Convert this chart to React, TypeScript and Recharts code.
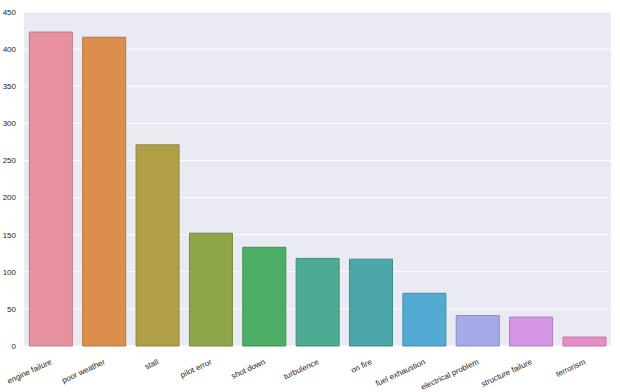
import React from 'react';
import { BarChart, Bar, XAxis, YAxis, CartesianGrid, Cell } from 'recharts';

const causes = [
  'engine failure', 'poor weather', 'stall', 'pilot error', 'shot down', 'turbulence',
  'on fire', 'fuel exhaustion', 'electrical problem', 'structure failure', 'terrorism',
];
const counts = [423, 416, 271, 152, 133, 118, 117, 71, 41, 39, 12];
const colors = [
  '#e8929f', '#dc8f4d', '#b19f48', '#8fa648', '#4cae64', '#4cab92',
  '#4ba7aa', '#52a9d2', '#a6aae9', '#d595e4', '#e88dc8',
];
const edges = [
  '#c07a84', '#b77640', '#93843c', '#778a3c', '#3f9153', '#3f8e7a',
  '#3e8b8d', '#4489ad', '#8a8dc1', '#b17cbd', '#c175a6',
];
const yTicks = [0, 50, 100, 150, 200, 250, 300, 350, 400, 450];

const data = causes.map((c, i) => ({ cause: c, count: counts[i] }));

const AngledTick = (props: any) => {
  const { x, y, payload } = props;
  return (
    <g transform={`translate(${x},${y + 6}) rotate(-25)`}>
      <text x={0} y={0} dy={4} textAnchor="end" fontSize={8} fill="#262626" fontFamily="'Liberation Sans', Arial, sans-serif">
        {payload.value}
      </text>
    </g>
  );
};

const App: React.FC = () => {
  return (
    <div style={{ position: 'absolute', left: 0, top: 0, background: '#fff' }}>
      <BarChart width={620} height={392} data={data} margin={{ top: 12, right: 9, left: 0, bottom: 0 }} barCategoryGap="10%">
        <CartesianGrid vertical={false} fill="#eaeaf2" stroke="#ffffff" strokeWidth={1} />
        <XAxis dataKey="cause" interval={0} height={46} tick={<AngledTick />} tickLine={false} axisLine={false} />
        <YAxis
          domain={[0, 450]}
          ticks={yTicks}
          width={24}
          tickLine={false}
          axisLine={false}
          tick={{ fontSize: 8, fill: '#262626', fontFamily: "'Liberation Sans', Arial, sans-serif" }}
          tickMargin={2}
        />
        <Bar dataKey="count" isAnimationActive={false}>
          {data.map((d, i) => (
            <Cell key={d.cause} fill={colors[i]} stroke={edges[i]} strokeWidth={1} />
          ))}
        </Bar>
      </BarChart>
    </div>
  );
};

export default App;
